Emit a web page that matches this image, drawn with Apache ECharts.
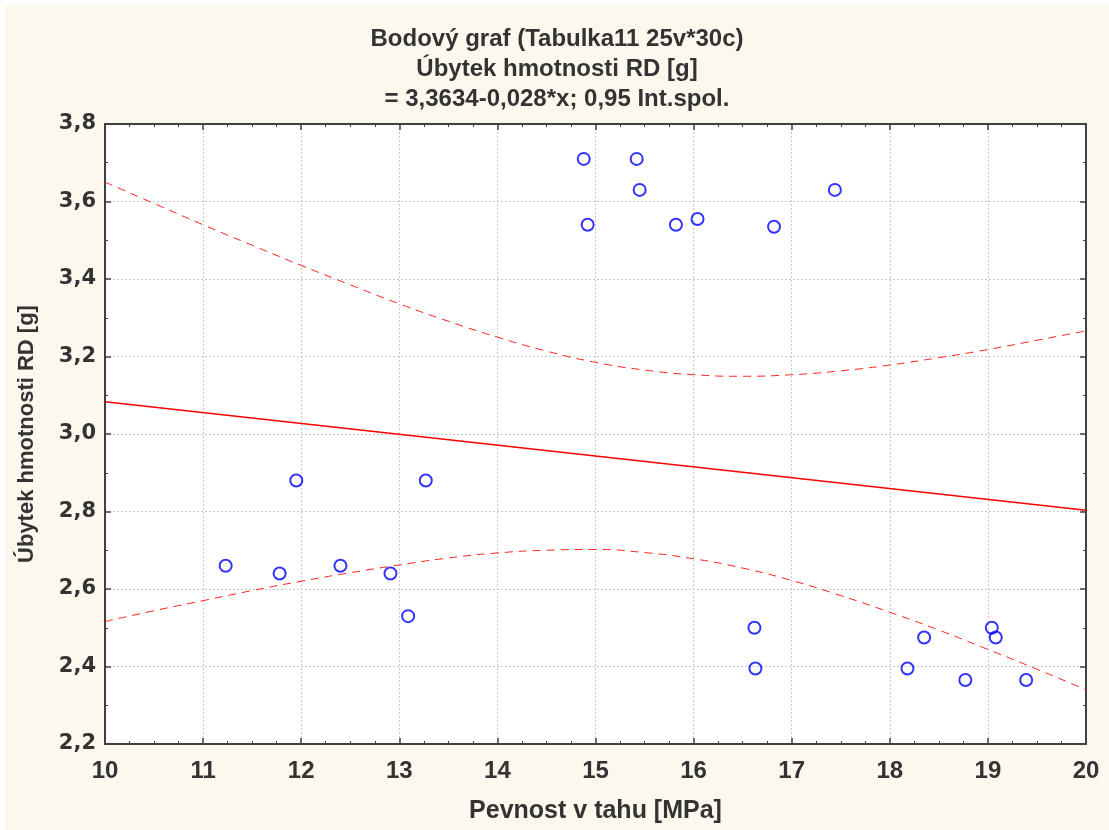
<!DOCTYPE html>
<html>
<head>
<meta charset="utf-8">
<script src="https://cdn.jsdelivr.net/npm/echarts@6/dist/echarts.min.js"></script>
<style>
html,body{margin:0;padding:0;background:#ffffff;}
#c{position:absolute;left:5px;top:5px;width:1104px;height:825px;}
</style>
</head>
<body>
<div id="c"></div>
<script>
// Data
const titleLines = ['Bodový graf (Tabulka11 25v*30c)', 'Úbytek hmotnosti RD [g]', '= 3,3634-0,028*x; 0,95 Int.spol.'];
const xName = 'Pevnost v tahu [MPa]';
const yName = 'Úbytek hmotnosti RD [g]';

const pointX = [11.23, 11.78, 11.95, 12.40, 12.91, 13.09, 13.27,
                14.88, 15.42, 15.45, 17.44, 14.92, 15.82, 16.04, 16.82,
                16.62, 16.63, 18.35, 18.18, 18.77, 19.04, 19.08, 19.39];
const pointY = [2.66, 2.64, 2.88, 2.66, 2.64, 2.53, 2.88,
                3.71, 3.71, 3.63, 3.63, 3.54, 3.54, 3.555, 3.535,
                2.50, 2.395, 2.475, 2.395, 2.365, 2.50, 2.475, 2.365];

const fitX = [10, 20];
const fitY = [3.0834, 2.8034];

const bandX = [10, 10.5, 11, 11.5, 12, 12.5, 13, 13.5, 14, 14.5, 15, 15.5, 16, 16.5, 17, 17.5, 18, 18.5, 19, 19.5, 20];
const bandUpper = [3.650, 3.595, 3.540, 3.487, 3.435, 3.385, 3.336, 3.291, 3.250, 3.214, 3.185, 3.165, 3.153, 3.149, 3.153, 3.163, 3.178, 3.197, 3.218, 3.242, 3.266];
const bandLower = [2.516, 2.544, 2.570, 2.596, 2.620, 2.642, 2.662, 2.680, 2.693, 2.700, 2.702, 2.694, 2.678, 2.654, 2.622, 2.583, 2.540, 2.494, 2.444, 2.393, 2.340];

const zip = (a, b) => a.map((v, i) => [v, b[i]]);

const sans = "'Liberation Sans', Arial, sans-serif";
const axisColor = '#404040';
const textColor = '#333333';

const chart = echarts.init(document.getElementById('c'), null, {renderer: 'canvas'});

const baseX = {
  type: 'value', min: 10, max: 20, interval: 1,
  axisLine: {show: true, onZero: false, lineStyle: {color: axisColor, width: 2}},
  axisTick: {show: true, inside: true, length: 6, lineStyle: {color: axisColor, width: 1.5}},
  minorTick: {show: true, splitNumber: 4, length: 3, lineStyle: {color: axisColor, width: 1}},
  splitLine: {show: false}
};
const baseY = {
  type: 'value', min: 2.2, max: 3.8, interval: 0.2,
  axisLine: {show: true, onZero: false, lineStyle: {color: axisColor, width: 2}},
  axisTick: {show: true, inside: true, length: 6, lineStyle: {color: axisColor, width: 1.5}},
  minorTick: {show: true, splitNumber: 2, length: 3, lineStyle: {color: axisColor, width: 1}},
  splitLine: {show: false}
};

const titleStyle = {fontFamily: sans, fontWeight: 'bold', fontSize: 24, color: textColor};

chart.setOption({
  backgroundColor: '#fdf8ee',
  animation: false,
  title: [
    {text: titleLines[0], left: 'center', top: 17, textStyle: titleStyle},
    {text: titleLines[1], left: 'center', top: 47, textStyle: titleStyle},
    {text: titleLines[2], left: 'center', top: 77, textStyle: titleStyle}
  ],
  grid: {left: 100, top: 119, width: 981, height: 620, containLabel: false, outerBoundsMode: 'none',
         show: true, backgroundColor: '#ffffff', borderWidth: 0},
  xAxis: [
    Object.assign({}, baseX, {
      position: 'bottom',
      name: xName, nameLocation: 'middle', nameGap: 55,
      nameTextStyle: {fontFamily: sans, fontWeight: 'bold', fontSize: 25, color: textColor},
      axisLabel: {show: true, margin: 15, fontFamily: sans, fontWeight: 'bold', fontSize: 24, color: textColor},
      splitLine: {show: true, lineStyle: {color: '#c8c8c8', type: [2, 2], width: 1}}
    }),
    Object.assign({}, baseX, {position: 'top', axisLabel: {show: false}})
  ],
  yAxis: [
    Object.assign({}, baseY, {
      position: 'left',
      name: yName, nameLocation: 'middle', nameGap: 67, nameRotate: 90,
      nameTextStyle: {fontFamily: sans, fontWeight: 'bold', fontSize: 22, color: textColor},
      axisLabel: {show: true, margin: 9, fontFamily: "'DejaVu Sans', sans-serif", fontWeight: 'bold', fontSize: 21, color: textColor,
        formatter: v => v.toFixed(1).replace('.', ',')},
      splitLine: {show: true, lineStyle: {color: '#c8c8c8', type: [2, 2], width: 1}}
    }),
    Object.assign({}, baseY, {position: 'right', axisLabel: {show: false}})
  ],
  series: [
    {
      type: 'line', data: zip(bandX, bandUpper), smooth: true, symbol: 'none',
      lineStyle: {color: '#ff2020', width: 1, type: [8, 6]}, z: 2
    },
    {
      type: 'line', data: zip(bandX, bandLower), smooth: true, symbol: 'none',
      lineStyle: {color: '#ff2020', width: 1, type: [8, 6]}, z: 2
    },
    {
      type: 'line', data: zip(fitX, fitY), symbol: 'none',
      lineStyle: {color: '#ff0000', width: 1.5}, z: 3
    },
    {
      type: 'scatter', data: zip(pointX, pointY), symbol: 'circle', symbolSize: 12,
      itemStyle: {color: 'rgba(255,255,255,0)', borderColor: '#0000ff', borderWidth: 2}, z: 4
    }
  ]
});
</script>
</body>
</html>
